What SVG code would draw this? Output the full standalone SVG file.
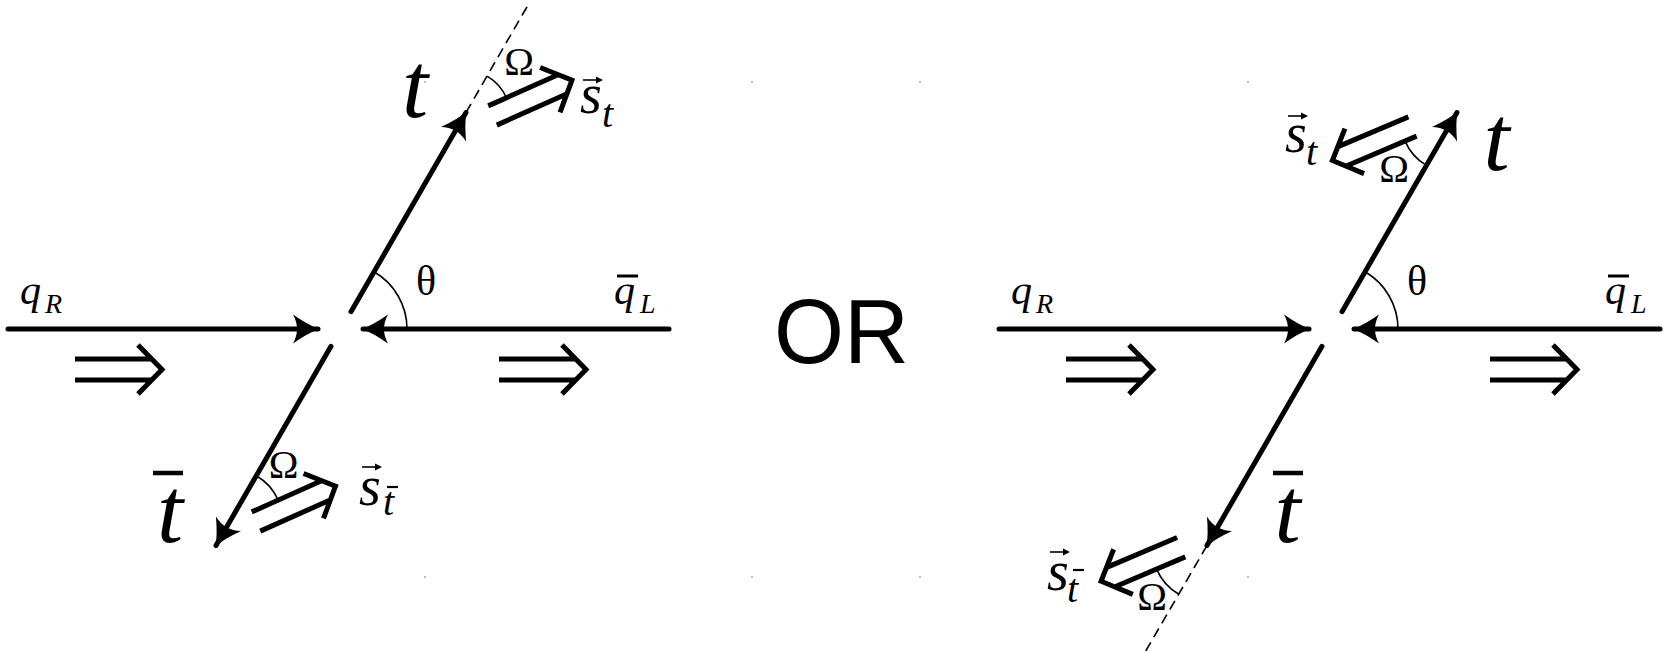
<svg xmlns="http://www.w3.org/2000/svg" width="1665" height="651" viewBox="0 0 1665 651">
<style>
.thick{stroke:#000;stroke-width:5;stroke-linecap:round;fill:none}
.dbl{stroke:#000;stroke-width:5;stroke-linecap:butt;stroke-linejoin:miter;fill:none}
.thin{stroke:#000;stroke-width:1.6;fill:none}
.dash{stroke:#000;stroke-width:1.6;fill:none;stroke-dasharray:10 6}
.bar{stroke:#000;stroke-width:3;fill:none}
.sbar{stroke:#000;stroke-width:2.2;fill:none}
.vec{stroke:#000;stroke-width:1.6;fill:none}
.vech{fill:#000;stroke:none}
.dot{fill:#aaa}
</style>
<defs>
<marker id="ah" markerUnits="userSpaceOnUse" markerWidth="40" markerHeight="40" viewBox="-30 -20 40 40" refX="0" refY="0" orient="auto" overflow="visible">
<path d="M1,0 Q-10,-4 -25,-14.5 Q-17,0 -25,14.5 Q-10,4 1,0 Z" fill="#000"/>
</marker>
<symbol id="dblarrow" overflow="visible">
<path class="dbl" d="M0,-10.5 H77 M0,10.5 H77 M63,-24.5 L87,0 L63,24.5"/>
</symbol>
</defs>

<g id="connectors">
<line class="thick" x1="8" y1="329" x2="318" y2="329" marker-end="url(#ah)"/>
<line class="thick" x1="669" y1="329" x2="363" y2="329" marker-end="url(#ah)"/>
<line class="thick" x1="351" y1="311.7" x2="466" y2="112.5" marker-end="url(#ah)"/>
<line class="thick" x1="331" y1="346.3" x2="216" y2="545.5" marker-end="url(#ah)"/>
<line class="dash" x1="466" y1="112.5" x2="528" y2="5"/>
<path class="thin" d="M407,329 A66,66 0 0 0 374,271.8"/>
<path class="thin" d="M487,76.1 A47,47 0 0 1 506.4,97.7"/>
<path class="thin" d="M256.3,475.8 A53,53 0 0 1 278.2,500.1"/>
<line class="thick" x1="999" y1="329" x2="1309" y2="329" marker-end="url(#ah)"/>
<line class="thick" x1="1660" y1="329" x2="1354" y2="329" marker-end="url(#ah)"/>
<line class="thick" x1="1342" y1="311.7" x2="1457" y2="112.5" marker-end="url(#ah)"/>
<line class="thick" x1="1322" y1="346.3" x2="1207" y2="545.5" marker-end="url(#ah)"/>
<line class="dash" x1="1207" y1="545.5" x2="1144" y2="654"/>
<path class="thin" d="M1398,329 A66,66 0 0 0 1365,271.8"/>
<path class="thin" d="M1405.1,141.1 A51,51 0 0 0 1426.5,165.4"/>
<path class="thin" d="M1156.6,569.1 A53,53 0 0 0 1178.9,594.3"/>
</g>

<g id="flow-arrows">
<use href="#dblarrow" transform="translate(75,369.5)"/>
<use href="#dblarrow" transform="translate(499,369.5)"/>
<use href="#dblarrow" transform="translate(1066,369.5)"/>
<use href="#dblarrow" transform="translate(1490,369.5)"/>
</g>

<g id="spin-arrows">
<use href="#dblarrow" transform="translate(492.5,115.5) rotate(-24)"/>
<use href="#dblarrow" transform="translate(256,521.5) rotate(-24)"/>
<use href="#dblarrow" transform="translate(1412.5,126.5) rotate(157)"/>
<use href="#dblarrow" transform="translate(1181.2,547.2) rotate(157)"/>
</g>

<g id="label-left-qR">
<text font-family="Liberation Serif" font-style="italic" font-size="42" x="20" y="304">q</text>
<text font-family="Liberation Serif" font-style="italic" font-size="28" x="45" y="313">R</text>
</g>
<g id="label-left-qbarL">
<text font-family="Liberation Serif" font-style="italic" font-size="42" x="614" y="304">q</text>
<line class="bar" x1="617" y1="276" x2="638" y2="276"/>
<text font-family="Liberation Serif" font-style="italic" font-size="28" x="640" y="313">L</text>
</g>
<g id="label-left-theta"><text font-family="Liberation Serif" font-size="42" x="426" y="295" text-anchor="middle">θ</text></g>
<g id="label-left-t"><text font-family="Liberation Serif" font-style="italic" font-size="94" x="415" y="117" text-anchor="middle">t</text></g>
<g id="label-left-tbar">
<line class="bar" x1="153" y1="473" x2="183" y2="473" style="stroke-width:4.5"/>
<text font-family="Liberation Serif" font-style="italic" font-size="94" x="170" y="542" text-anchor="middle">t</text>
</g>
<g id="label-left-omega-top"><text font-family="Liberation Serif" font-size="40" x="519" y="75" text-anchor="middle">Ω</text></g>
<g id="label-left-omega-bottom"><text font-family="Liberation Serif" font-size="40" x="283.5" y="478" text-anchor="middle">Ω</text></g>
<g id="label-left-st">
<path class="vec" d="M583,80 H598"/><path class="vech" d="M596,76.5 L603,80 L596,83.5 Z"/>
<text font-family="Liberation Serif" font-style="italic" font-size="56" x="580" y="113">s</text>
<text font-family="Liberation Serif" font-style="italic" font-size="40" x="602" y="127">t</text>
</g>
<g id="label-left-stbar">
<path class="vec" d="M362,467 H377"/><path class="vech" d="M375,463.5 L382,467 L375,470.5 Z"/>
<text font-family="Liberation Serif" font-style="italic" font-size="56" x="359" y="505">s</text>
<text font-family="Liberation Serif" font-style="italic" font-size="40" x="383" y="515">t</text>
<line class="sbar" x1="387" y1="487" x2="398" y2="487"/>
</g>

<g id="label-or"><text font-family="Liberation Sans" font-size="90" x="774" y="363">OR</text></g>

<g id="label-right-qR">
<text font-family="Liberation Serif" font-style="italic" font-size="42" x="1011" y="304">q</text>
<text font-family="Liberation Serif" font-style="italic" font-size="28" x="1036" y="313">R</text>
</g>
<g id="label-right-qbarL">
<text font-family="Liberation Serif" font-style="italic" font-size="42" x="1605" y="304">q</text>
<line class="bar" x1="1608" y1="276" x2="1629" y2="276"/>
<text font-family="Liberation Serif" font-style="italic" font-size="28" x="1631" y="313">L</text>
</g>
<g id="label-right-theta"><text font-family="Liberation Serif" font-size="42" x="1417" y="295" text-anchor="middle">θ</text></g>
<g id="label-right-t"><text font-family="Liberation Serif" font-style="italic" font-size="94" x="1496.5" y="170" text-anchor="middle">t</text></g>
<g id="label-right-tbar">
<line class="bar" x1="1273" y1="473" x2="1303" y2="473" style="stroke-width:4.5"/>
<text font-family="Liberation Serif" font-style="italic" font-size="94" x="1287.5" y="542" text-anchor="middle">t</text>
</g>
<g id="label-right-omega-top"><text font-family="Liberation Serif" font-size="40" x="1394" y="182" text-anchor="middle">Ω</text></g>
<g id="label-right-omega-bottom"><text font-family="Liberation Serif" font-size="40" x="1152" y="610" text-anchor="middle">Ω</text></g>
<g id="label-right-st">
<path class="vec" d="M1288,116 H1303"/><path class="vech" d="M1301,112.5 L1308,116 L1301,119.5 Z"/>
<text font-family="Liberation Serif" font-style="italic" font-size="56" x="1285" y="152">s</text>
<text font-family="Liberation Serif" font-style="italic" font-size="40" x="1306" y="165">t</text>
</g>
<g id="label-right-stbar">
<path class="vec" d="M1050,552 H1065"/><path class="vech" d="M1063,548.5 L1070,552 L1063,555.5 Z"/>
<text font-family="Liberation Serif" font-style="italic" font-size="56" x="1047" y="590">s</text>
<text font-family="Liberation Serif" font-style="italic" font-size="40" x="1067" y="602">t</text>
<line class="sbar" x1="1073" y1="570" x2="1084" y2="570"/>
</g>

<g id="corner-dots">
<circle class="dot" cx="425" cy="82" r="1"/>
<circle class="dot" cx="752" cy="82" r="1"/>
<circle class="dot" cx="920" cy="82" r="1"/>
<circle class="dot" cx="1248" cy="82" r="1"/>
<circle class="dot" cx="425" cy="577" r="1"/>
<circle class="dot" cx="752" cy="577" r="1"/>
<circle class="dot" cx="920" cy="577" r="1"/>
<circle class="dot" cx="1248" cy="577" r="1"/>
</g>
</svg>
